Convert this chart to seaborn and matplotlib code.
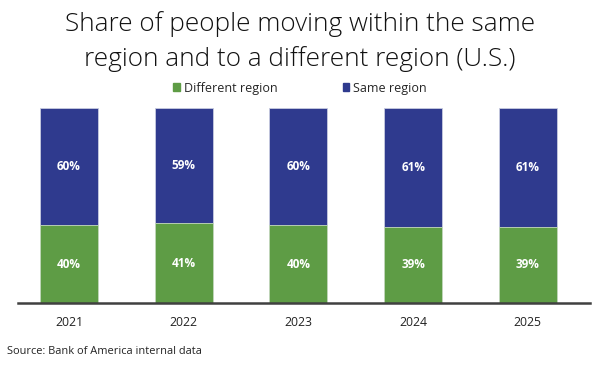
import numpy as np
import pandas as pd
import matplotlib.pyplot as plt
import seaborn as sns

years = ["2021", "2022", "2023", "2024", "2025"]
different_region = [40, 41, 40, 39, 39]
same_region = [60, 59, 60, 61, 61]

green = "#5E9C45"
blue = "#2F3A8E"

sns.set_theme(style="white")
plt.rcParams['font.family'] = ['Open Sans', 'DejaVu Sans']

df = pd.DataFrame({"year": years, "Different region": different_region,
                   "Same region": same_region})
df["total"] = df["Different region"] + df["Same region"]

fig = plt.figure(figsize=(6, 3.75), dpi=100)
ax = fig.add_axes([0.03, 0.192, 0.953, 0.52])

# stacked: draw total first (blue), then green on top
sns.barplot(data=df, x="year", y="total", color=blue, width=0.505,
            edgecolor="#c8cbe0", linewidth=0.6, saturation=1, ax=ax)
sns.barplot(data=df, x="year", y="Different region", color=green, width=0.505,
            edgecolor="#c8dcc0", linewidth=0.6, saturation=1, ax=ax)

for i, (d, s) in enumerate(zip(different_region, same_region)):
    ax.text(i, d / 2, f"{d}%", ha="center", va="center", color="white",
            fontsize=8.5, fontweight="bold")
    ax.text(i, d + s / 2, f"{s}%", ha="center", va="center", color="white",
            fontsize=8.5, fontweight="bold")

ax.set_xlim(-0.445, 4.54)
ax.set_ylim(0, 100)
ax.set_xlabel("")
ax.set_ylabel("")
ax.set_yticks([])
for sp in ["top", "right", "left"]:
    ax.spines[sp].set_visible(False)
ax.spines["bottom"].set_color("#404040")
ax.spines["bottom"].set_linewidth(1.8)
ax.tick_params(axis="x", length=0, pad=9, labelsize=8.8, colors="#222222")

fig.text(0.5, 0.937, "Share of people moving within the same", ha="center",
         va="center", fontsize=18.8, color="#111111", fontweight="light")
fig.text(0.5, 0.843, "region and to a different region (U.S.)", ha="center",
         va="center", fontsize=18.8, color="#111111", fontweight="light")

handles = [plt.Rectangle((0, 0), 1, 1, color=green),
           plt.Rectangle((0, 0), 1, 1, color=blue)]
fig.legend(handles, ["Different region", "Same region"], loc="center",
           bbox_to_anchor=(0.5, 0.765), ncol=2, frameon=False, fontsize=9,
           handlelength=0.55, handleheight=0.55, handletextpad=0.3,
           columnspacing=5.2)

fig.text(0.012, 0.063, "Source: Bank of America internal data", ha="left",
         va="center", fontsize=7.9, color="#222222")

fig.savefig("out.png", dpi=100)
